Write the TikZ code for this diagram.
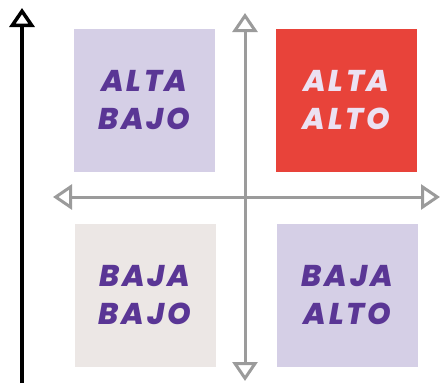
\documentclass[tikz,border=0pt]{standalone}
\usepackage{fontspec}
\setmainfont{Poppins}
\newfontfamily\quadfont{Poppins ExtraBold Italic}[LetterSpace=9]
\usetikzlibrary{arrows.meta}

\definecolor{lavender}{HTML}{D5CFE6}
\definecolor{hotred}{HTML}{E8433A}
\definecolor{sand}{HTML}{ECE7E5}
\definecolor{grape}{HTML}{5A3695}
\definecolor{pale}{HTML}{ECE1F2}
\definecolor{axisgray}{HTML}{9B9B9B}

\tikzset{
  quad/.style={minimum width=141pt, minimum height=143pt, inner sep=0pt,
    align=center, font=\quadfont\fontsize{30}{38}\selectfont},
  axis/.style={line width=3pt, axisgray}
}

\begin{document}
\begin{tikzpicture}[x=1pt, y=-1pt, >={Triangle[open, length=19pt, width=25pt]}]

        \useasboundingbox (0,0) rectangle (441,383);

        \foreach \n/\x/\y/\c/\t/\a/\b in {tl/144.5/100.5/lavender/grape/ALTA/BAJO,
                                          tr/346.5/100.5/hotred/pale/ALTA/ALTO,
                                          bl/145/295/sand/grape/BAJA/BAJO,
                                          br/347.5/295/lavender/grape/BAJA/ALTO}
          \node [quad, fill=\c, text=\t] (box-\n) at (\x,\y) {\a\\\b};

        \coordinate (y-top) at (22,8);
        \coordinate (y-bottom) at (22,383);
        \coordinate (v-top) at (245,13);
        \coordinate (v-bottom) at (245,381);
        \coordinate (h-left) at (53,197);
        \coordinate (h-right) at (440,197);

        \draw [<->, axis] (v-bottom) -- (v-top);
        \draw [<->, axis] (h-left) -- (h-right);

        \draw [->, line width=3.5pt, black] (y-bottom) -- (y-top);

\end{tikzpicture}
\end{document}
